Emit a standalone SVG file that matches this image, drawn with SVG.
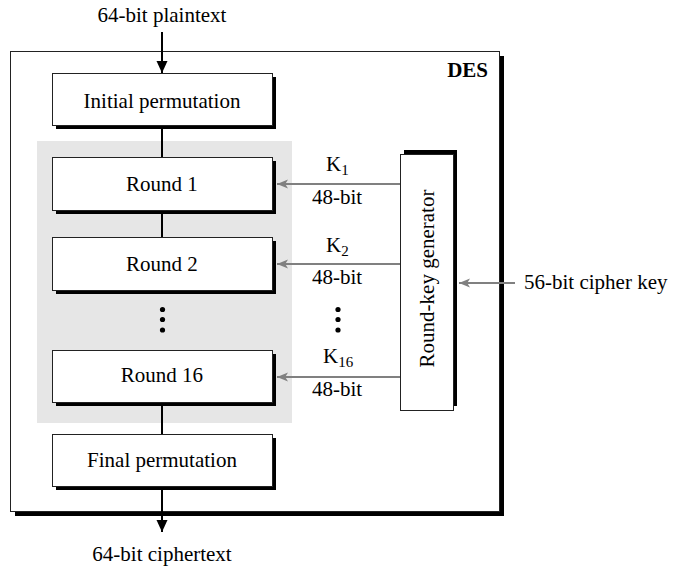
<svg xmlns="http://www.w3.org/2000/svg" width="673" height="569" viewBox="0 0 673 569">
<defs>
<style>
text{font-family:"Liberation Serif","Times New Roman",serif;font-size:21px;fill:#000}
.c{text-anchor:middle}
.box{fill:#fff;stroke:#222;stroke-width:1}
.sh{fill:#000}
.blk{stroke:#000;stroke-width:2;fill:none}
.gry{stroke:#808080;stroke-width:2;fill:none}
.sub{font-size:15px}
</style>
<marker id="ab" viewBox="0 0 12 12" refX="12" refY="6" markerWidth="12" markerHeight="12" markerUnits="userSpaceOnUse" orient="auto">
<path d="M0,0.5 L12,6 L0,11.5 z" fill="#000"/>
</marker>
<marker id="ag" viewBox="0 0 12 12" refX="12" refY="6" markerWidth="11" markerHeight="11" markerUnits="userSpaceOnUse" orient="auto">
<path d="M0,1 L12,6 L0,11 L3,6 z" fill="#808080"/>
</marker>
</defs>
<rect width="673" height="569" fill="#fff"/>

<g id="des">
<rect class="sh" x="15" y="56" width="489" height="460"/>
<rect class="box" x="10.5" y="51.5" width="489" height="460"/>
<text x="488" y="77" text-anchor="end" font-weight="bold">DES</text>
</g>

<g id="rounds-area">
<rect x="37" y="141" width="255" height="282" fill="#e6e6e6"/>
</g>

<g id="connectors">
<line class="blk" x1="162" y1="32" x2="162" y2="73" marker-end="url(#ab)"/>
<line class="blk" x1="162" y1="125" x2="162" y2="157"/>
<line class="blk" x1="162" y1="211" x2="162" y2="237"/>
<line class="blk" x1="162" y1="402" x2="162" y2="434"/>
<line class="blk" x1="162" y1="487" x2="162" y2="532" marker-end="url(#ab)"/>
<line class="gry" x1="400" y1="184" x2="277" y2="184" marker-end="url(#ag)"/>
<line class="gry" x1="400" y1="264" x2="277" y2="264" marker-end="url(#ag)"/>
<line class="gry" x1="400" y1="377" x2="277" y2="377" marker-end="url(#ag)"/>
<line class="gry" x1="515" y1="283" x2="459" y2="283" marker-end="url(#ag)"/>
</g>

<g id="plaintext"><text class="c" x="162" y="22">64-bit plaintext</text></g>

<g id="initial-permutation">
<rect class="sh" x="56" y="77" width="220" height="52"/>
<rect class="box" x="52.5" y="73.5" width="220" height="52"/>
<text class="c" x="162" y="108">Initial permutation</text>
</g>

<g id="round1">
<rect class="sh" x="56" y="161" width="220" height="53"/>
<rect class="box" x="52.5" y="157.5" width="220" height="53"/>
<text class="c" x="162" y="191">Round 1</text>
</g>

<g id="round2">
<rect class="sh" x="56" y="241" width="220" height="53"/>
<rect class="box" x="52.5" y="237.5" width="220" height="53"/>
<text class="c" x="162" y="271">Round 2</text>
</g>

<g id="dots-left">
<circle cx="162.5" cy="309.5" r="2.6"/>
<circle cx="162.5" cy="319.5" r="2.6"/>
<circle cx="162.5" cy="330" r="2.6"/>
</g>

<g id="round16">
<rect class="sh" x="56" y="354" width="220" height="52"/>
<rect class="box" x="52.5" y="350.5" width="220" height="52"/>
<text class="c" x="162" y="382">Round 16</text>
</g>

<g id="final-permutation">
<rect class="sh" x="56" y="438" width="220" height="52"/>
<rect class="box" x="52.5" y="434.5" width="220" height="52"/>
<text class="c" x="162" y="467">Final permutation</text>
</g>

<g id="ciphertext"><text class="c" x="162" y="561">64-bit ciphertext</text></g>

<g id="key-labels">
<text x="326" y="171">K<tspan class="sub" dy="4">1</tspan></text>
<text class="c" x="337" y="204">48-bit</text>
<text x="326" y="252">K<tspan class="sub" dy="4">2</tspan></text>
<text class="c" x="337" y="284">48-bit</text>
<text x="323" y="363">K<tspan class="sub" dy="4">16</tspan></text>
<text class="c" x="337" y="396">48-bit</text>
</g>

<g id="dots-right">
<circle cx="338" cy="309.5" r="2.6"/>
<circle cx="338" cy="319.5" r="2.6"/>
<circle cx="338" cy="330" r="2.6"/>
</g>

<g id="round-key-generator">
<rect class="sh" x="404" y="150" width="53" height="256"/>
<rect class="box" x="400.5" y="154.5" width="53" height="256"/>
<text class="c" transform="translate(434,278.5) rotate(-90)">Round-key generator</text>
</g>

<g id="cipher-key"><text x="524" y="289">56-bit cipher key</text></g>
</svg>
